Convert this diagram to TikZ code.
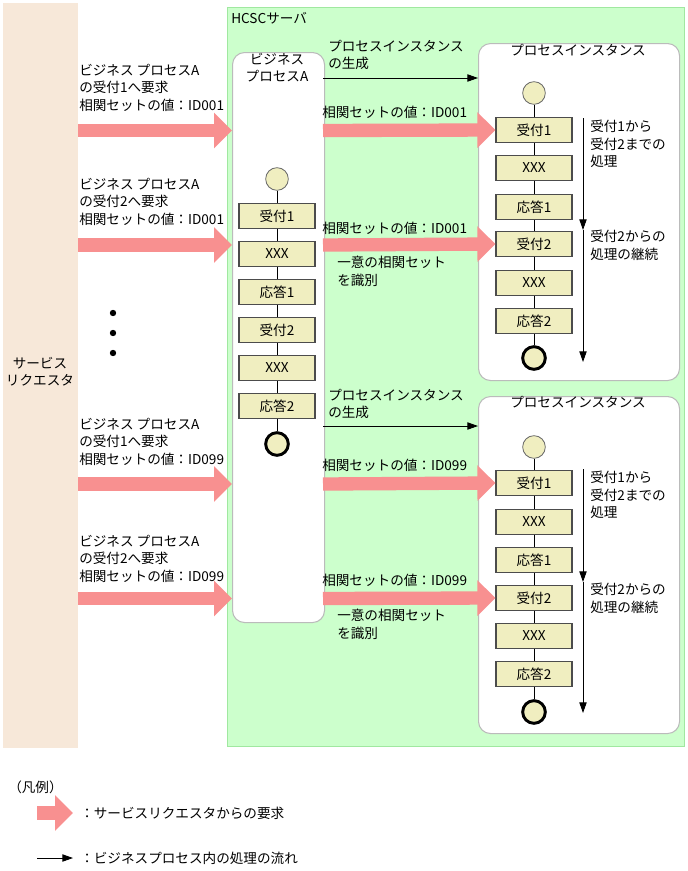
\documentclass[tikz,border=0pt]{standalone}
\usepackage{fontspec}
\setmainfont{Noto Sans CJK JP}
\usetikzlibrary{arrows.meta}
\definecolor{peach}{HTML}{F7E8D9}
\definecolor{srvgreen}{HTML}{CCFFCC}
\definecolor{srvborder}{HTML}{A0E8A0}
\definecolor{boxfill}{HTML}{F0EEC0}
\definecolor{reqpink}{HTML}{F89090}
\definecolor{panelgray}{HTML}{BBBBBB}
\tikzset{
  every node/.style={font=\fontsize{10.2}{13}\selectfont, inner sep=0pt},
  stepbox/.style={draw=black!70, line width=0.9pt, fill=boxfill, minimum width=57pt, minimum height=18.5pt},
  startc/.style={circle, draw=black!60, line width=0.6pt, fill=boxfill, minimum size=17pt},
  endc/.style={circle, draw=black, line width=2.2pt, fill=boxfill, minimum size=17pt},
  panel/.style={draw=panelgray, line width=0.8pt, fill=white, rounded corners=9pt},
  reqarrow/.style={draw=reqpink, line width=10pt, -{Triangle[length=13.5pt,width=26pt]}, shorten >=0pt},
  flowarrow/.style={draw=black, line width=0.7pt, -{Triangle[length=8pt,width=5.5pt]}},
  link/.style={draw=black, line width=0.7pt},
  lbl/.style={align=left, anchor=north west},
}
\begin{document}
\begin{tikzpicture}[x=0.75pt,y=-0.75pt]
\useasboundingbox (0,0) rectangle (687,871);
% service requester
\node[fill=peach, minimum width=56.25pt, minimum height=558.75pt, anchor=north west] (req) at (3,3) {};
\node[align=center] (reqlbl) at (40,372) {サービス\\リクエスタ};
% HCSC server
\node[draw=srvborder, line width=0.8pt, fill=srvgreen, minimum width=342.75pt, minimum height=554.25pt, anchor=north west] (srv) at (227,7) {};
\node[anchor=west] (srvlbl) at (231,18) {HCSCサーバ};
% business process A panel
\node[panel, minimum width=69pt, minimum height=427.5pt, anchor=north west] (bpa) at (232,52) {};
\node[align=center, anchor=north] (bpalbl) at (277,53) {ビジネス\\プロセスA};
% process instance panels
\node[panel, minimum width=150.75pt, minimum height=252.75pt, anchor=north west] (pi1) at (478,43) {};
\node (pi1lbl) at (578,50) {プロセスインスタンス};
\node[panel, minimum width=150.75pt, minimum height=252.75pt, anchor=north west] (pi2) at (478,396) {};
\node (pi2lbl) at (578,402) {プロセスインスタンス};

% BPA flow
\node[startc] (a0) at (277,179) {};
\node[stepbox] (a1) at (277,216) {受付1};
\node[stepbox] (a2) at (277,254) {XXX};
\node[stepbox] (a3) at (277,292) {応答1};
\node[stepbox] (a4) at (277,330) {受付2};
\node[stepbox] (a5) at (277,368) {XXX};
\node[stepbox] (a6) at (277,406) {応答2};
\node[endc] (a7) at (277,444) {};
\draw[link] (a0)--(a1) (a1)--(a2) (a2)--(a3) (a3)--(a4) (a4)--(a5) (a5)--(a6) (a6)--(a7);

% instance 1 flow
\node[startc] (p0) at (534,93) {};
\node[stepbox] (p1) at (534,130) {受付1};
\node[stepbox] (p2) at (534,168) {XXX};
\node[stepbox] (p3) at (534,207) {応答1};
\node[stepbox] (p4) at (534,244) {受付2};
\node[stepbox] (p5) at (534,283) {XXX};
\node[stepbox] (p6) at (534,321) {応答2};
\node[endc] (p7) at (534,358) {};
\draw[link] (p0)--(p1) (p1)--(p2) (p2)--(p3) (p3)--(p4) (p4)--(p5) (p5)--(p6) (p6)--(p7);

% instance 2 flow
\node[startc] (q0) at (534,447) {};
\node[stepbox] (q1) at (534,483) {受付1};
\node[stepbox] (q2) at (534,522) {XXX};
\node[stepbox] (q3) at (534,560) {応答1};
\node[stepbox] (q4) at (534,598) {受付2};
\node[stepbox] (q5) at (534,636) {XXX};
\node[stepbox] (q6) at (534,674) {応答2};
\node[endc] (q7) at (534,712) {};
\draw[link] (q0)--(q1) (q1)--(q2) (q2)--(q3) (q3)--(q4) (q4)--(q5) (q5)--(q6) (q6)--(q7);

% vertical process arrows
\coordinate (v1a) at (583,118); \coordinate (v1b) at (583,230); \coordinate (v1c) at (583,362);
\draw[flowarrow] (v1a) -- (v1b);
\draw[flowarrow] (v1b) -- (v1c);
\coordinate (v2a) at (583,469); \coordinate (v2b) at (583,582); \coordinate (v2c) at (583,713);
\draw[flowarrow] (v2a) -- (v2b);
\draw[flowarrow] (v2b) -- (v2c);
\node[lbl] (t1) at (590,120) {受付1から\\受付2までの\\処理};
\node[lbl] (t2) at (590,230) {受付2からの\\処理の継続};
\node[lbl] (t3) at (590,471) {受付1から\\受付2までの\\処理};
\node[lbl] (t4) at (590,583) {受付2からの\\処理の継続};

% left request arrows
\coordinate (l1s) at (78,130.5); \coordinate (l1e) at (232,130.5);
\coordinate (l2s) at (78,245); \coordinate (l2e) at (232,245);
\coordinate (l3s) at (78,484); \coordinate (l3e) at (232,484);
\coordinate (l4s) at (78,598.5); \coordinate (l4e) at (232,598.5);
\draw[reqarrow] (l1s) -- (l1e);
\draw[reqarrow] (l2s) -- (l2e);
\draw[reqarrow] (l3s) -- (l3e);
\draw[reqarrow] (l4s) -- (l4e);
\node[lbl] (g1) at (79,64) {ビジネス プロセスA\\の受付1へ要求\\相関セットの値：ID001};
\node[lbl] (g2) at (79,178) {ビジネス プロセスA\\の受付2へ要求\\相関セットの値：ID001};
\node[lbl] (g3) at (79,418) {ビジネス プロセスA\\の受付1へ要求\\相関セットの値：ID099};
\node[lbl] (g4) at (79,535) {ビジネス プロセスA\\の受付2へ要求\\相関セットの値：ID099};
\fill (113,313) circle (2.4pt);
\fill (113,333) circle (2.4pt);
\fill (113,353) circle (2.4pt);

% right request arrows
\coordinate (r1s) at (323,130.5); \coordinate (r2s) at (323,245);
\coordinate (r3s) at (323,484); \coordinate (r4s) at (323,598.5);
\draw[reqarrow] (r1s) -- (p1.west);
\draw[reqarrow] (r2s) -- (p4.west);
\draw[reqarrow] (r3s) -- (q1.west);
\draw[reqarrow] (r4s) -- (q4.west);
\node[anchor=west] (c1) at (322,112) {相関セットの値：ID001};
\node[anchor=west] (c2) at (322,228) {相関セットの値：ID001};
\node[anchor=west] (c3) at (322,465) {相関セットの値：ID099};
\node[anchor=west] (c4) at (322,580) {相関セットの値：ID099};
\node[lbl] (u1) at (337,256) {一意の相関セット\\を識別};
\node[lbl] (u2) at (337,609) {一意の相関セット\\を識別};

% instance creation arrows
\coordinate (k1s) at (323,78); \coordinate (k1e) at (478,78);
\coordinate (k2s) at (323,426); \coordinate (k2e) at (478,426);
\draw[flowarrow] (k1s) -- (k1e);
\draw[flowarrow] (k2s) -- (k2e);
\node[lbl] (m1) at (328,40) {プロセスインスタンス\\の生成};
\node[lbl] (m2) at (328,389) {プロセスインスタンス\\の生成};

% legend
\node[anchor=west] (leg) at (8,787) {（凡例）};
\coordinate (e1s) at (37,813); \coordinate (e1e) at (73,813);
\draw[reqarrow] (e1s) -- (e1e);
\node[anchor=west] (leg1) at (80,813) {：サービスリクエスタからの要求};
\coordinate (e2s) at (37,858); \coordinate (e2e) at (73,858);
\draw[flowarrow] (e2s) -- (e2e);
\node[anchor=west] (leg2) at (80,858) {：ビジネスプロセス内の処理の流れ};
\end{tikzpicture}
\end{document}
